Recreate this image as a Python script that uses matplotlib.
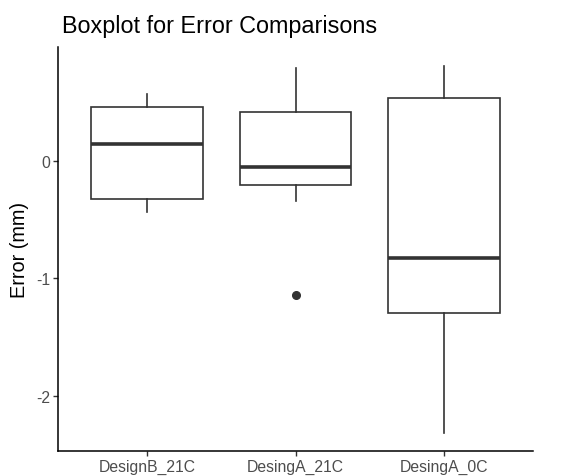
import matplotlib
matplotlib.use("Agg")
import matplotlib.pyplot as plt

categories = ["DesignB_21C", "DesingA_21C", "DesingA_0C"]
whisker_low = [-0.44, -0.345, -2.317]
q1 = [-0.33, -0.206, -1.30]
median = [0.14, -0.053, -0.83]
q3 = [0.453, 0.413, 0.530]
whisker_high = [0.566, 0.787, 0.807]
outliers = [[], [-1.145], []]
yticks = [-2, -1, 0]

plt.rcParams['font.family'] = ['Liberation Sans', 'DejaVu Sans']

fig = plt.figure(figsize=(5.64, 4.77), dpi=100)
W, H = 564, 477
left, right, top, bottom = 58, 533, 48, 452
ax = fig.add_axes([left / W, 1 - bottom / H, (right - left) / W, (bottom - top) / H])

stats = []
for i, c in enumerate(categories):
    stats.append(dict(label=c, whislo=whisker_low[i], q1=q1[i], med=median[i],
                      q3=q3[i], whishi=whisker_high[i], fliers=outliers[i]))

ec = "#333333"
ax.bxp(stats, positions=range(1, len(categories) + 1), widths=0.75,
       showcaps=False, patch_artist=True,
       boxprops=dict(facecolor="white", edgecolor=ec, linewidth=1.2),
       whiskerprops=dict(color=ec, linewidth=1.2),
       medianprops=dict(color=ec, linewidth=2.6, solid_capstyle="butt"),
       flierprops=dict(marker="o", markerfacecolor=ec, markeredgecolor=ec,
                       markersize=5.5, linestyle="none"))

ax.set_xlim(0.4, 3.6)
ax.set_ylim(-2.472, 0.966)
ax.set_yticks(yticks)
ax.set_yticklabels([str(t) for t in yticks])

for s in ["top", "right"]:
    ax.spines[s].set_visible(False)
for s in ["left", "bottom"]:
    ax.spines[s].set_color("black")
    ax.spines[s].set_linewidth(1.1)

ax.tick_params(axis="both", colors="#333333", labelcolor="#4D4D4D",
               labelsize=11.3, length=3.5, width=1.0, pad=2)

ax.set_ylabel("Error (mm)", fontsize=14.3, color="black", labelpad=5)
fig.text(62 / W, 1 - 26 / H, "Boxplot for Error Comparisons", fontsize=16.8,
         ha="left", va="center", color="black")

fig.savefig("out.png", dpi=100, facecolor="white")
